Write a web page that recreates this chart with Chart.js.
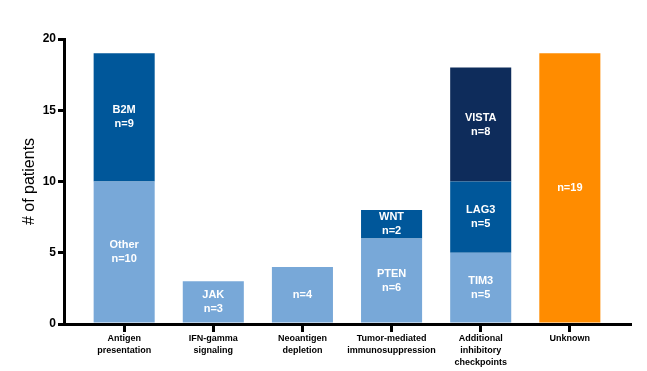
<!DOCTYPE html>
<html>
<head>
<meta charset="utf-8">
<script src="https://cdn.jsdelivr.net/npm/chart.js@4"></script>
<style>
  html, body { margin: 0; padding: 0; background: #fff; }
  #wrap { width: 647px; height: 371px; }
</style>
</head>
<body>
<div id="wrap"><canvas id="chart" width="647" height="371"></canvas></div>
<script>
// categories (multi-line tick labels)
const categories = [
  ['Antigen', 'presentation'],
  ['IFN-gamma', 'signaling'],
  ['Neoantigen', 'depletion'],
  ['Tumor-mediated', 'immunosuppression'],
  ['Additional', 'inhibitory', 'checkpoints'],
  ['Unknown']
];

// stacked segments, bottom to top
const baseValues = [10, 3, 4, 6, 5, 0];
const middleValues = [9, 0, 0, 2, 5, 0];
const topValues = [0, 0, 0, 0, 8, 0];
const unknownValues = [0, 0, 0, 0, 0, 19];

// names written inside each segment
const baseNames = ['Other', 'JAK', '', 'PTEN', 'TIM3', ''];
const middleNames = ['B2M', '', '', 'WNT', 'LAG3', ''];
const topNames = ['', '', '', '', 'VISTA', ''];
const unknownNames = ['', '', '', '', '', ''];

const yTicks = [0, 5, 10, 15, 20];

Chart.defaults.font.family = "'Liberation Sans', Arial, sans-serif";
Chart.defaults.color = '#000';

const toPoints = arr => arr.map((v, i) => ({ x: i, y: v }));

const segmentNames = [baseNames, middleNames, topNames, unknownNames];

// texte dans les barres
const segmentLabels = {
  id: 'segmentLabels',
  afterDatasetsDraw(chart) {
    const ctx = chart.ctx;
    ctx.save();
    ctx.fillStyle = '#fff';
    ctx.font = "bold 11px 'Liberation Sans', Arial, sans-serif";
    ctx.textAlign = 'center';
    ctx.textBaseline = 'middle';
    chart.data.datasets.forEach((ds, i) => {
      const meta = chart.getDatasetMeta(i);
      meta.data.forEach((bar, j) => {
        const value = ds.data[j].y;
        if (!value) return;
        const name = segmentNames[i][j];
        const lines = name ? [name, 'n=' + value] : ['n=' + value];
        const cy = (bar.y + bar.base) / 2;
        const start = cy - (lines.length - 1) * 14 / 2;
        lines.forEach((txt, k) => ctx.fillText(txt, bar.x, start + k * 14));
      });
    });
    ctx.restore();
  }
};

new Chart(document.getElementById('chart').getContext('2d'), {
  type: 'bar',
  data: {
    datasets: [
      { data: toPoints(baseValues), backgroundColor: '#78A8D8' },
      { data: toPoints(middleValues), backgroundColor: '#00579A' },
      { data: toPoints(topValues), backgroundColor: '#0E2C5B' },
      { data: toPoints(unknownValues), backgroundColor: '#FF8C00' }
    ]
  },
  options: {
    responsive: false,
    animation: false,
    barPercentage: 0.685,
    categoryPercentage: 1,
    layout: { padding: { top: 39, right: 17, left: 0, bottom: 0 } },
    plugins: {
      legend: { display: false },
      tooltip: { enabled: false }
    },
    scales: {
      x: {
        type: 'linear',
        stacked: true,
        offset: false,
        bounds: 'data',
        min: -0.675,
        max: 5.675,
        afterBuildTicks: scale => {
          scale.ticks = categories.map((c, i) => ({ value: i }));
        },
        afterFit: scale => { scale.height = 47; },
        ticks: {
          autoSkip: false,
          maxRotation: 0,
          padding: 1,
          font: { size: 9, weight: 'bold', lineHeight: 1.3 },
          callback: value => categories[Math.round(value)]
        },
        grid: {
          offset: false,
          drawOnChartArea: false,
          color: '#000',
          lineWidth: 3,
          tickLength: 8
        },
        border: { color: '#000', width: 3 }
      },
      y: {
        stacked: true,
        min: 0,
        max: 20,
        afterBuildTicks: scale => {
          scale.ticks = yTicks.map(v => ({ value: v }));
        },
        afterFit: scale => { scale.width = 64; },
        ticks: {
          padding: 2,
          font: { size: 12, weight: 'bold' }
        },
        grid: {
          drawOnChartArea: false,
          color: '#000',
          lineWidth: 3,
          tickLength: 6
        },
        border: { color: '#000', width: 3 },
        title: {
          display: true,
          text: '# of patients',
          font: { size: 16 },
          padding: { top: 20, bottom: 0 }
        }
      }
    }
  },
  plugins: [segmentLabels]
});
</script>
</body>
</html>
